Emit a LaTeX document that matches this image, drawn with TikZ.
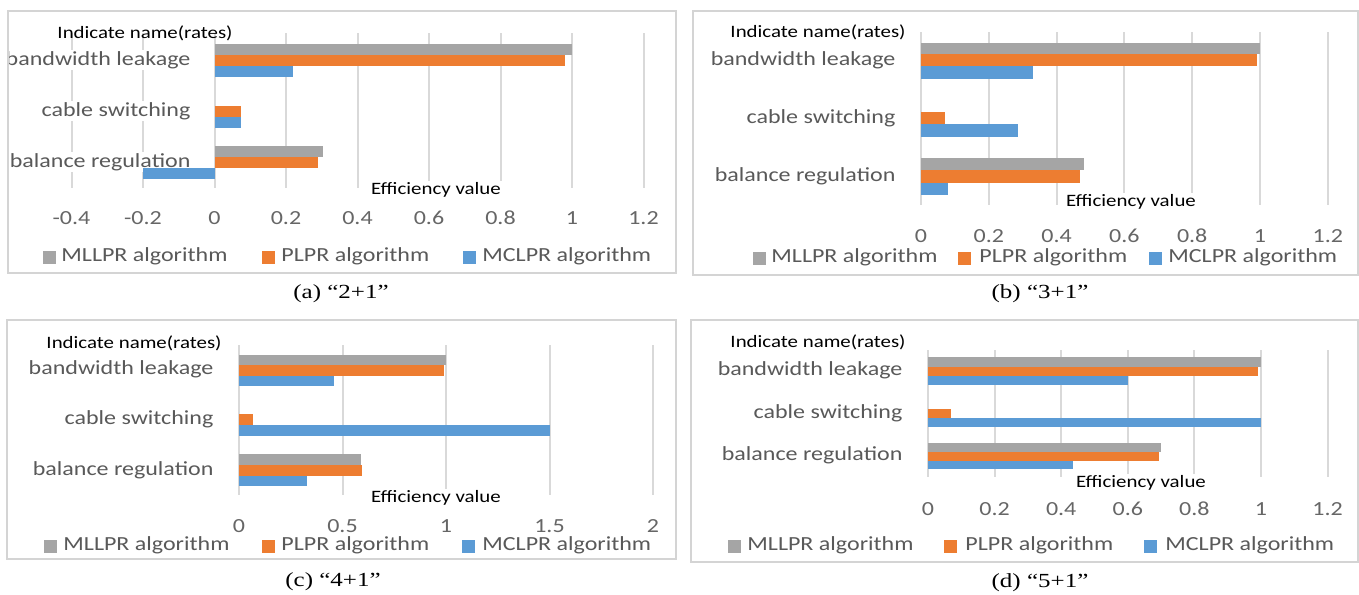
\documentclass[tikz,border=0pt]{standalone}
\usepackage{fontspec}
\newfontfamily\chartfont{Carlito}[FakeStretch=1.2]
\newfontfamily\capfont{Liberation Serif}[FakeStretch=1.25]
\definecolor{mllpr}{HTML}{A5A5A5}
\definecolor{plpr}{HTML}{ED7D31}
\definecolor{mclpr}{HTML}{5B9BD5}
\definecolor{gridc}{HTML}{D9D9D9}
\definecolor{framec}{HTML}{D4D4D4}
\definecolor{labc}{HTML}{595959}
\definecolor{tickc}{HTML}{666666}

\tikzset{
  panel/.style={draw=framec, line width=1.4pt},
  gridln/.style={draw=gridc, line width=1pt},
  catlab/.style={anchor=east, font=\chartfont\fontsize{10}{12}\selectfont, text=labc, fill=white, inner sep=0.6pt},
  ticklab/.style={font=\chartfont\fontsize{10}{12}\selectfont, text=tickc, inner sep=0pt, text height=0.64em, text depth=0pt},
  axtitle/.style={font=\chartfont\fontsize{8.7}{10}\selectfont, text=black, inner sep=0pt},
  legtext/.style={anchor=west, font=\chartfont\fontsize{10}{12}\selectfont, text=labc, inner sep=0pt, text height=0.66em, text depth=0.18em},
  legkey/.style={anchor=west, minimum size=6.5pt, inner sep=0pt},
  captext/.style={font=\capfont\fontsize{10}{12}\selectfont, inner sep=0pt},
}
% one horizontal bar: colour, top y, bottom y, value (uses \zx and \ux of the panel)
\newcommand\chartbar[4]{\fill[#1] (\zx,#2) rectangle ({\zx+(#4)*\ux},#3);}

\begin{document}
\begin{tikzpicture}[x=0.5pt, y=-0.5pt]
\useasboundingbox (0,0) rectangle (1359,594);
\fill[white] (0,0) rectangle (1359,594);

% ---------------- (a) 2+1 ----------------
\def\zx{214.5}\def\ux{357.5}
\foreach \v in {-0.4,-0.2,0,0.2,0.4,0.6,0.8,1,1.2}{
  \draw[gridln] ({\zx+\v*\ux},33) -- ({\zx+\v*\ux},188);
  \node[ticklab] at ({\zx+\v*\ux},218) {\v};
}
\begin{scope}
  \clip (9,11) rectangle (675,272);
  \node[catlab] (a-bw) at (192,60) {bandwidth leakage};
\end{scope}
\node[catlab] (a-cs) at (192,111) {cable switching};
\node[catlab] (a-br) at (192,162) {balance regulation};
\chartbar{mllpr}{44}{55}{1.0}
\chartbar{plpr}{55}{66}{0.98}
\chartbar{mclpr}{66}{76.5}{0.22}
\chartbar{plpr}{106}{117}{0.074}
\chartbar{mclpr}{117}{127.5}{0.074}
\chartbar{mllpr}{146}{157}{0.303}
\chartbar{plpr}{157}{168}{0.29}
\chartbar{mclpr}{168}{178.5}{-0.2}
\node[axtitle] (a-yt) at (145,33) {Indicate name(rates)};
\node[axtitle, fill=white, inner sep=1pt] (a-xt) at (436,190) {Efficiency value};
\node[legkey, fill=mllpr] (a-k1) at (43,257) {};
\node[legtext] (a-l1) at (61,257) {MLLPR algorithm};
\node[legkey, fill=plpr] (a-k2) at (262,257) {};
\node[legtext] (a-l2) at (281,257) {PLPR algorithm};
\node[legkey, fill=mclpr] (a-k3) at (463,257) {};
\node[legtext] (a-l3) at (482,257) {MCLPR algorithm};
\draw[panel] (8,11) rectangle (676,273);
\node[captext] (a-cap) at (341,294) {(a) “2+1”};

% ---------------- (b) 3+1 ----------------
\def\zx{921}\def\ux{339}
\foreach \v in {0,0.2,0.4,0.6,0.8,1,1.2}{
  \draw[gridln] ({\zx+\v*\ux},32) -- ({\zx+\v*\ux},205);
  \node[ticklab] at ({\zx+\v*\ux},236) {\v};
}
\node[catlab] (b-bw) at (897,60) {bandwidth leakage};
\node[catlab] (b-cs) at (897,118) {cable switching};
\node[catlab] (b-br) at (897,176) {balance regulation};
\chartbar{mllpr}{43}{54}{1.0}
\chartbar{plpr}{54}{66}{0.99}
\chartbar{mclpr}{66}{79}{0.33}
\chartbar{plpr}{112}{124}{0.07}
\chartbar{mclpr}{124}{137}{0.286}
\chartbar{mllpr}{158}{170}{0.48}
\chartbar{plpr}{170}{183}{0.47}
\chartbar{mclpr}{183}{195}{0.08}
\node[axtitle] (b-yt) at (818,32) {Indicate name(rates)};
\node[axtitle, fill=white, inner sep=1pt] (b-xt) at (1131,202) {Efficiency value};
\node[legkey, fill=mllpr] (b-k1) at (753,258) {};
\node[legtext] (b-l1) at (771,258) {MLLPR algorithm};
\node[legkey, fill=plpr] (b-k2) at (958,258) {};
\node[legtext] (b-l2) at (979,258) {PLPR algorithm};
\node[legkey, fill=mclpr] (b-k3) at (1149,258) {};
\node[legtext] (b-l3) at (1168,258) {MCLPR algorithm};
\draw[panel] (693,11) rectangle (1358,275);
\node[captext] (b-cap) at (1040,294) {(b) “3+1”};

% ---------------- (c) 4+1 ----------------
\def\zx{239}\def\ux{207}
\foreach \v in {0,0.5,1,1.5,2}{
  \draw[gridln] ({\zx+\v*\ux},345) -- ({\zx+\v*\ux},495);
  \node[ticklab] at ({\zx+\v*\ux},526) {\v};
}
\node[catlab] (c-bw) at (215,369) {bandwidth leakage};
\node[catlab] (c-cs) at (215,419) {cable switching};
\node[catlab] (c-br) at (215,470) {balance regulation};
\chartbar{mllpr}{355}{365}{1.0}
\chartbar{plpr}{365}{376}{0.99}
\chartbar{mclpr}{376}{386}{0.46}
\chartbar{plpr}{414}{425}{0.07}
\chartbar{mclpr}{425}{436}{1.5}
\chartbar{mllpr}{454}{465}{0.59}
\chartbar{plpr}{465}{476}{0.595}
\chartbar{mclpr}{476}{486}{0.33}
\node[axtitle] (c-yt) at (134,343) {Indicate name(rates)};
\node[axtitle, fill=white, inner sep=1pt] (c-xt) at (436,498) {Efficiency value};
\node[legkey, fill=mllpr] (c-k1) at (44,546) {};
\node[legtext] (c-l1) at (63,546) {MLLPR algorithm};
\node[legkey, fill=plpr] (c-k2) at (262,546) {};
\node[legtext] (c-l2) at (281,546) {PLPR algorithm};
\node[legkey, fill=mclpr] (c-k3) at (462,546) {};
\node[legtext] (c-l3) at (482,546) {MCLPR algorithm};
\draw[panel] (7,320) rectangle (676,559);
\node[captext] (c-cap) at (333,582) {(c) “4+1”};

% ---------------- (d) 5+1 ----------------
\def\zx{928}\def\ux{333}
\foreach \v in {0,0.2,0.4,0.6,0.8,1,1.2}{
  \draw[gridln] ({\zx+\v*\ux},350) -- ({\zx+\v*\ux},477);
  \node[ticklab] at ({\zx+\v*\ux},509) {\v};
}
\node[catlab] (d-bw) at (904,370) {bandwidth leakage};
\node[catlab] (d-cs) at (904,413) {cable switching};
\node[catlab] (d-br) at (904,455) {balance regulation};
\chartbar{mllpr}{357}{367}{1.0}
\chartbar{plpr}{367}{376}{0.99}
\chartbar{mclpr}{376}{385}{0.6}
\chartbar{plpr}{409}{418}{0.07}
\chartbar{mclpr}{418}{427}{1.0}
\chartbar{mllpr}{443}{452}{0.7}
\chartbar{plpr}{452}{461}{0.695}
\chartbar{mclpr}{461}{469}{0.435}
\node[axtitle] (d-yt) at (818,342) {Indicate name(rates)};
\node[axtitle, fill=white, inner sep=1pt] (d-xt) at (1141,483) {Efficiency value};
\node[legkey, fill=mllpr] (d-k1) at (728,546) {};
\node[legtext] (d-l1) at (747,546) {MLLPR algorithm};
\node[legkey, fill=plpr] (d-k2) at (944,546) {};
\node[legtext] (d-l2) at (965,546) {PLPR algorithm};
\node[legkey, fill=mclpr] (d-k3) at (1144,546) {};
\node[legtext] (d-l3) at (1165,546) {MCLPR algorithm};
\draw[panel] (691,320) rectangle (1358,562);
\node[captext] (d-cap) at (1040,583) {(d) “5+1”};
\end{tikzpicture}
\end{document}
